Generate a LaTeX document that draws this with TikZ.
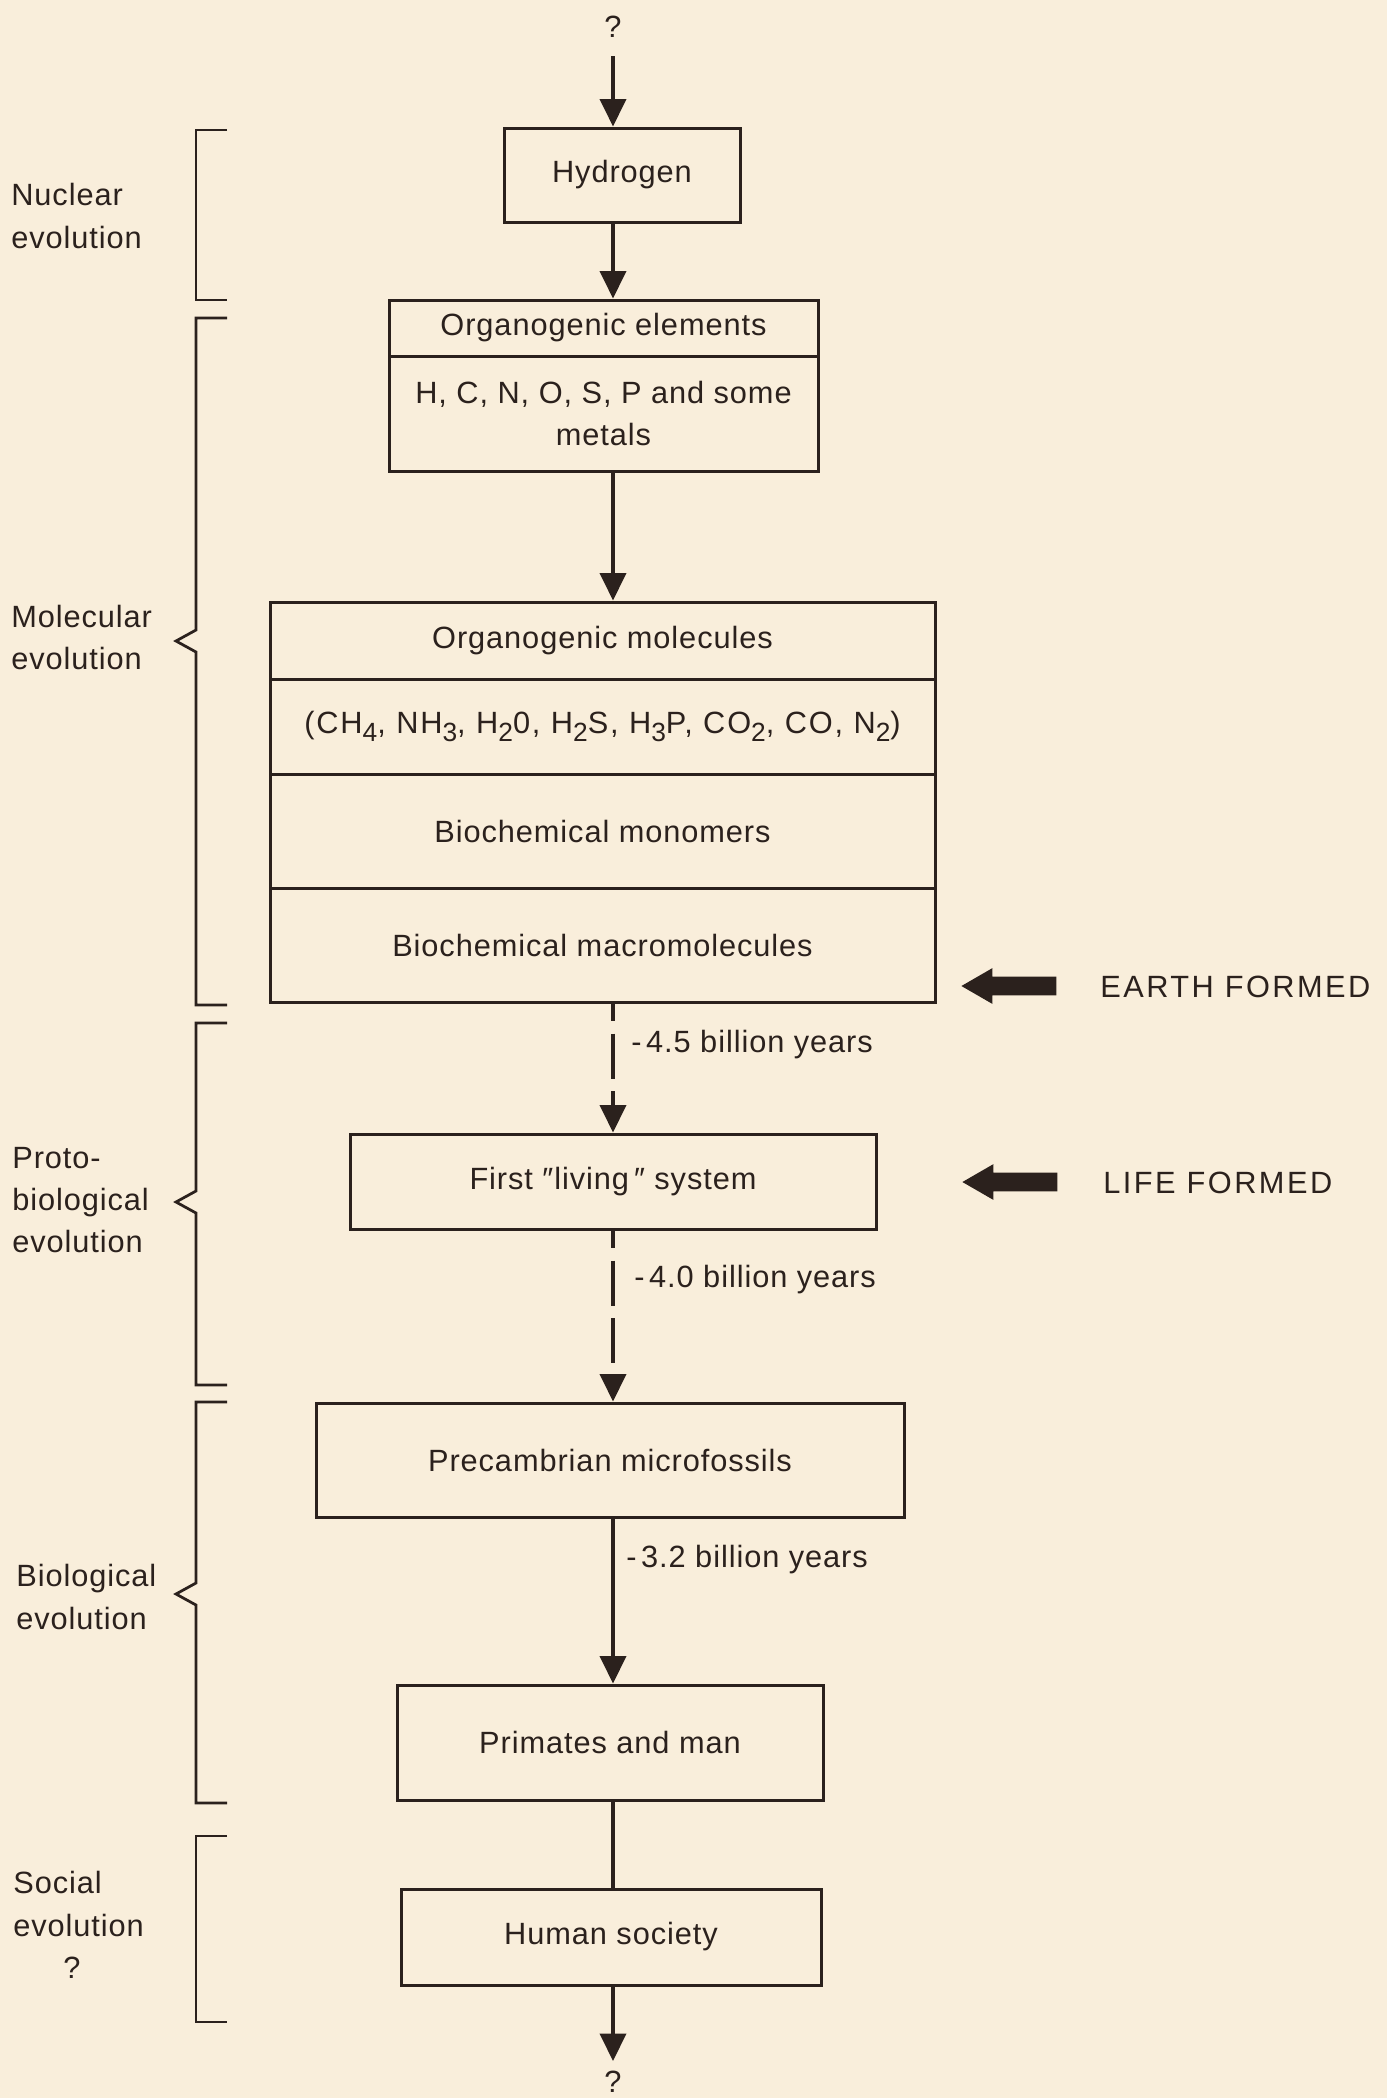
\documentclass[tikz,border=0pt]{standalone}
\usepackage{fontspec}
\setmainfont{Liberation Sans}[LetterSpace=3]
\usetikzlibrary{shapes.arrows, arrows.meta}
\definecolor{PaperColor}{HTML}{F9EEDB}
\definecolor{InkColor}{HTML}{2B211D}
\newcommand{\chemsub}[1]{\raisebox{-0.5ex}{\fontsize{15}{15}\selectfont #1}}
\tikzstyle{box_element}=[rectangle,
                         draw=InkColor,
                         line width=0.06cm,
                         align=center,
                         inner sep=0, ]
\tikzstyle{flow_line}=[draw=InkColor,
                       line width=0.08cm, ]
\tikzstyle{flow_arrow}=[flow_line,
                        -{Triangle[length=0.55cm, width=0.52cm]}, ]
\tikzstyle{flow_dashed}=[flow_arrow,
                         dash pattern=on 0.9cm off 0.25cm,
                         dash phase=0.55cm, ]
\tikzstyle{brace_line}=[draw=InkColor,
                        line width=0.055cm, ]
\tikzstyle{side_label}=[anchor=west,
                        inner sep=0,
                        align=left, ]
\tikzstyle{event_arrow}=[single arrow,
                         fill=InkColor,
                         inner sep=0.18cm,
                         minimum height=1.9cm,
                         single arrow head extend=0.17cm,
                         single arrow tip angle=60,
                         shape border rotate=180, ]

\begin{document}
\begin{tikzpicture}[font=\fontsize{17.5}{24}\selectfont, color=InkColor]
    \fill[PaperColor] (0,0) rectangle (27.74,-41.96);
    \useasboundingbox (0,0) rectangle (27.74,-41.96);
    \coordinate (axis) at (12.26, 0);

    % main column
    \node at (12.26, -0.54) (q_top) {?};
    \coordinate (top_start) at (12.26, -1.12);
    \node at (12.44, -3.50) (hydrogen) [box_element, minimum width=4.72cm, minimum height=1.88cm] {Hydrogen};

    \node at (12.07, -6.56) (elements_title) [box_element, minimum width=8.58cm, minimum height=1.12cm] {Organogenic elements};
    \node at (12.07, -8.27) (elements_body) [box_element, minimum width=8.58cm, minimum height=2.30cm] {H, C, N, O, S, P and some\\metals};

    \node at (12.05, -12.81) (mol_a) [box_element, minimum width=13.30cm, minimum height=1.54cm] {Organogenic molecules};
    \node at (12.05, -14.53) (mol_b) [box_element, minimum width=13.30cm, minimum height=1.90cm]
      {\addfontfeature{LetterSpace=6}(CH\chemsub{4}, NH\chemsub{3}, H\chemsub{2}0, H\chemsub{2}S, H\chemsub{3}P, CO\chemsub{2}, CO, N\chemsub{2})};
    \node at (12.05, -16.62) (mol_c) [box_element, minimum width=13.30cm, minimum height=2.28cm] {Biochemical monomers};
    \node at (12.05, -18.90) (mol_d) [box_element, minimum width=13.30cm, minimum height=2.28cm] {\raisebox{-0.2cm}{Biochemical macromolecules}};

    \node at (12.26, -23.63) (living) [box_element, minimum width=10.52cm, minimum height=1.90cm] {First \char"2033 living\,\char"2033\ system};
    \node at (12.20, -29.20) (precambrian) [box_element, minimum width=11.76cm, minimum height=2.28cm] {Precambrian microfossils};
    \node at (12.20, -34.85) (primates) [box_element, minimum width=8.52cm, minimum height=2.30cm] {Primates and man};
    \node at (12.22, -38.74) (human) [box_element, minimum width=8.40cm, minimum height=1.92cm] {Human society};
    \coordinate (bottom_end) at (12.26, -41.22);
    \node at (12.26, -41.64) (q_bottom) {?};

    \draw[flow_arrow] (top_start) -- (hydrogen.north -| axis);
    \draw[flow_arrow] (hydrogen.south -| axis) -- (elements_title.north -| axis);
    \draw[flow_arrow] (elements_body.south -| axis) -- (mol_a.north -| axis);
    \draw[flow_dashed] (mol_d.south -| axis) -- (living.north -| axis);
    \draw[flow_dashed] (living.south -| axis) -- (precambrian.north -| axis);
    \draw[flow_arrow] (precambrian.south -| axis) -- (primates.north -| axis);
    \draw[flow_line] (primates.south -| axis) -- (human.north -| axis);
    \draw[flow_arrow] (human.south -| axis) -- (bottom_end);

    % time labels
    \node at (12.62, -20.90) (age_earth) [side_label] {-\hspace{0.15em}4.5 billion years};
    \node at (12.68, -25.60) (age_life) [side_label] {-\hspace{0.15em}4.0 billion years};
    \node at (12.52, -31.20) (age_fossil) [side_label] {-\hspace{0.15em}3.2 billion years};

    % events
    \node at (20.34, -19.72) (earth_arrow) [event_arrow] {};
    \node at (22.00, -19.74) (earth_label) [side_label] {\addfontfeature{LetterSpace=8}EARTH FORMED};
    \node at (20.36, -23.64) (life_arrow) [event_arrow] {};
    \node at (22.06, -23.66) (life_label) [side_label] {\addfontfeature{LetterSpace=8}LIFE FORMED};

    % brackets
    \foreach \t/\b in {-2.60/-6.00, -36.72/-40.44} {
      \draw[brace_line] (4.54,\t) -- (3.92,\t) -- (3.92,\b) -- (4.54,\b);
    }
    \foreach \t/\m/\b in {-6.36/-12.82/-20.10,
                          -20.46/-24.04/-27.70,
                          -28.04/-31.88/-36.06} {
      \draw[brace_line] (4.54,\t) -- (3.92,\t) -- (3.92,{\m+0.22}) -- (3.52,\m)
                        -- (3.92,{\m-0.22}) -- (3.92,\b) -- (4.54,\b);
    }

    \node at (0.22, -4.32) (nuclear_label) [side_label] {Nuclear\\evolution};
    \node at (0.22, -12.75) (molecular_label) [side_label] {Molecular\\evolution};
    \node at (0.24, -24.00) (proto_label) [side_label] {Proto-\\biological\\evolution};
    \node at (0.32, -31.94) (biological_label) [side_label] {Biological\\evolution};
    \node at (0.26, -38.50) (social_label) [side_label] {Social\\evolution\\\hspace*{1.0cm}?};
\end{tikzpicture}
\end{document}
